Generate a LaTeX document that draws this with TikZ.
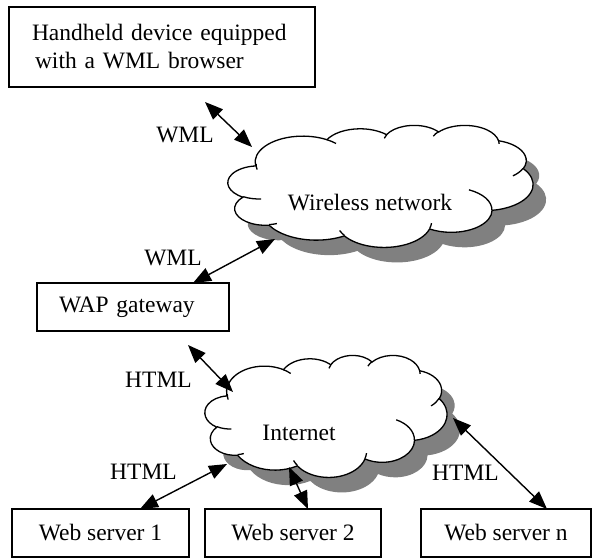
\documentclass[tikz,border=0pt]{standalone}
\usepackage{fontspec}
\setmainfont{Liberation Serif}
\usetikzlibrary{arrows.meta}
\tikzset{
  txt/.style={font=\fontsize{23.5}{28}\selectfont},
  box/.style={txt, draw, line width=1.4pt, rectangle, inner sep=0pt},
  lbl/.style={txt, anchor=base, inner sep=0pt},
  tip/.tip={Triangle[length=18pt 0 0,width=14pt 0 0]},
  link/.style={line width=1.4pt, tip-tip},
  carc/.style n args={4}{x radius=#1, y radius=#2,
    start angle={atan2(#1*sin(#3),#2*cos(#3))},
    delta angle={mod(atan2(#1*sin(#3+#4),#2*cos(#3+#4))-atan2(#1*sin(#3),#2*cos(#3))+720,360)}},
  cloudpath/.style={insert path={
    (39.00,143.70)
    arc[carc={67.53}{91.90}{-190.48748}{123.78053}]
    arc[carc={53.33}{72.67}{-144.10238}{89.94523}]
    arc[carc={43.65}{59.45}{-145.80792}{99.72302}]
    arc[carc={48.57}{65.95}{-130.98607}{117.24173}]
    arc[carc={53.33}{72.73}{-78.70888}{109.02692}]
    arc[carc={67.75}{92.20}{-46.26725}{130.269}]
    arc[carc={57.85}{78.67}{0.62502}{114.03333}]
    arc[carc={67.52}{92.15}{22.4516}{115.17255}]
    arc[carc={77.20}{105.43}{66.24263}{75.71102}]
    arc[carc={43.60}{59.18}{-274.94208}{146.73557}]
    arc[carc={43.45}{59.45}{-246.8285}{152.51885}]
    -- cycle}},
  cloudinner/.style={insert path={
    (46.93,261.77) arc[carc={43.45}{59.45}{86.742}{26.4295}]
    (69.28,348.99) arc[carc={43.60}{59.18}{73.61047}{11.44747}]
    (164.78,390.90) arc[carc={67.52}{92.15}{137.62415}{14.0811}]
    (288.27,347.51) arc[carc={67.52}{92.15}{6.45327}{15.99835}]
    (341.29,229.54) arc[carc={57.85}{78.67}{-70.29235}{70.91737}]
    (417.98,153.54) arc[carc={53.33}{72.73}{30.31803}{27.7515}]
    (383.24,54.26) arc[carc={48.57}{65.95}{-13.74433}{14.85375}]
    (290.78,39.52) arc[carc={48.57}{65.95}{-149.18145}{18.19588}]
    (221.41,47.20) arc[carc={43.65}{59.45}{-163.49427}{17.6881}]
    (140.00,51.92) arc[carc={67.53}{91.90}{-66.70695}{12.31935}]
    (41.27,157.89) arc[carc={67.53}{91.90}{163.748}{16.68635}]}},
  shadowfill/.style={fill={rgb,255:red,128;green,128;blue,128}},
  cloudline/.style={line width=1.3pt, fill=white},
}
\begin{document}
\begin{tikzpicture}[x=1pt,y=-1pt]
\useasboundingbox (0,0) rectangle (593,559);
\fill[white] (0,0) rectangle (593,559);

% Wireless network cloud
\begin{scope}[shift={(241,140)}, xscale=305/432, yscale=122/432]
  \fill[shadowfill, cloudpath];
\end{scope}
\begin{scope}[shift={(228,125)}, xscale=305/432, yscale=122/432]
  \draw[cloudline, cloudpath];
  \draw[line width=1.3pt, cloudinner];
\end{scope}
\node[lbl] (wnet) at (370,210) {Wireless network};

% Internet cloud
\begin{scope}[shift={(218,370)}, xscale=242/432, yscale=122/432]
  \fill[shadowfill, cloudpath];
\end{scope}
\begin{scope}[shift={(205,355)}, xscale=242/432, yscale=122/432]
  \draw[cloudline, cloudpath];
  \draw[line width=1.3pt, cloudinner];
\end{scope}
\node[lbl] (inet) at (299,440) {Internet};

% Boxes
\node[box, minimum width=306, minimum height=80, text width=260, align=left] (hand) at (162,47)
  {Handheld device equipped\\\hspace*{3pt}with a WML browser};
\node[box, minimum width=192, minimum height=48, text width=148, align=left] (wap) at (133,307) {WAP gateway};
\node[box, minimum width=177, minimum height=48] (ws1) at (100.5,533) {Web server 1};
\node[box, minimum width=176, minimum height=48] (ws2) at (293,533) {Web server 2};
\node[box, minimum width=170, minimum height=48] (wsn) at (506,533) {Web server n};

% Connector ends
\coordinate (a1s) at (205,102);
\coordinate (a1e) at (252,147);
\coordinate (a2s) at (275,239);
\coordinate (a2e) at (193,283);
\coordinate (a3s) at (188,345);
\coordinate (a3e) at (233,392);
\coordinate (a4s) at (227,464);
\coordinate (a4e) at (140,509);
\coordinate (a5s) at (289,467);
\coordinate (a5e) at (308,509);
\coordinate (a6s) at (453,418);
\coordinate (a6e) at (547,509);

\draw[link] (a1s) -- (a1e);
\draw[link] (a2s) -- (a2e);
\draw[link] (a3s) -- (a3e);
\draw[link] (a4s) -- (a4e);
\draw[link] (a5s) -- (a5e);
\draw[link] (a6s) -- (a6e);

% Labels
\node[lbl] (l1) at (185,142) {WML};
\node[lbl] (l2) at (173,265) {WML};
\node[lbl] (l3) at (158.5,387) {HTML};
\node[lbl] (l4) at (143.5,479) {HTML};
\node[lbl] (l5) at (465.5,480) {HTML};
\end{tikzpicture}
\end{document}
